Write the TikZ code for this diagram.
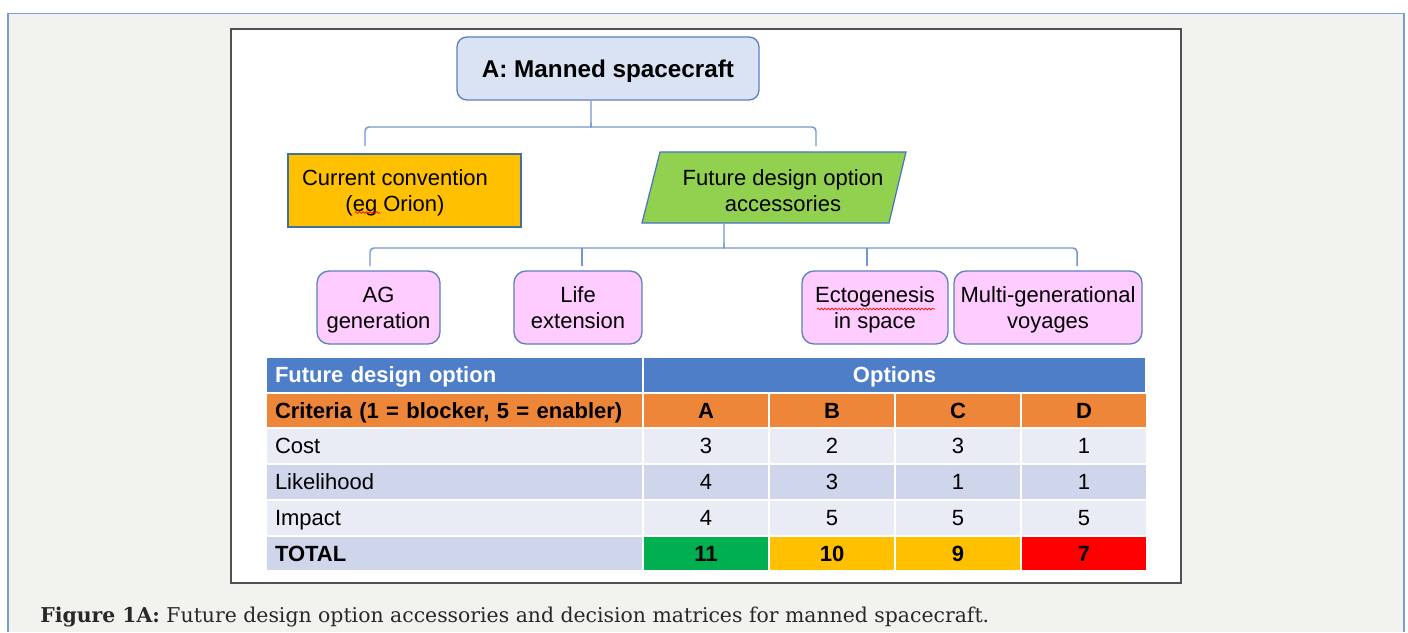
\documentclass[tikz,border=0pt]{standalone}
\usepackage{fontspec}
\setmainfont{Liberation Sans}
\newfontfamily\capfont{DejaVu Serif}
\usetikzlibrary{decorations.pathmorphing}

\begin{document}
\begin{tikzpicture}[x=0.75pt,y=0.75pt,yscale=-1,xscale=1,
  box/.style={draw={rgb,255:red,95;green,128;blue,190}, line width=1pt, align=center, inner sep=0pt, text depth=0pt, font=\fontsize{16.5}{19.5}\selectfont},
  pinkbox/.style={box, fill={rgb,255:red,255;green,204;blue,255}, rounded corners=9pt, minimum height=54.75pt},
  brace/.style={draw={rgb,255:red,114;green,150;blue,212}, line width=1.1pt},
  squig/.style={draw=red, line width=0.5pt, decorate, decoration={snake, amplitude=0.7pt, segment length=2.6pt}},
  cell/.style={draw=white, line width=1.5pt, minimum height=26.8pt, inner sep=0pt, text depth=0pt, font=\fontsize{16.5}{19}\selectfont},
  lab/.style={cell, minimum width=282.75pt, text width=269.25pt, align=left},
  num/.style={cell, minimum width=94.5pt},
  hdr/.style={fill={rgb,255:red,79;green,126;blue,201}, text=white},
  crit/.style={fill={rgb,255:red,238;green,134;blue,58}},
  rowlight/.style={fill={rgb,255:red,233;green,235;blue,245}},
  rowmid/.style={fill={rgb,255:red,207;green,213;blue,234}}]
\useasboundingbox (0,0) rectangle (1408,632);

%Shape: page background
\fill [color={rgb, 255:red, 242; green, 243; blue, 238 }] (8,13.5) rectangle (1404,632) ;
\draw [color={rgb, 255:red, 120; green, 156; blue, 216 }, line width=1pt] (8,632) -- (8,13.5) -- (1404,13.5) -- (1404,632) ;
%Shape: white panel
\draw [color={rgb, 255:red, 80; green, 80; blue, 80 }, fill=white, line width=0.9pt] (231,29) rectangle (1181,583) ;

% Title
\node [box, fill={rgb,255:red,218;green,227;blue,243}, rounded corners=7.5pt, minimum width=226.5pt, minimum height=47.25pt, font=\fontsize{18.2}{21}\selectfont\bfseries] (title) at (608,68.5) {A: Manned spacecraft};

% Current convention
\node [box, draw={rgb,255:red,65;green,113;blue,156}, fill={rgb,255:red,255;green,192;blue,0}, minimum width=174.75pt, minimum height=54.75pt] (conv) at (404.5,190.5) {};
\node [box, draw=none] (convtext) at (395,191) {Current convention\\(eg Orion)};
\draw [squig] (355,212.5) -- (380,212.5) ;

%Shape: Parallelogram
\draw [draw={rgb,255:red,68;green,114;blue,196}, fill={rgb,255:red,146;green,208;blue,80}, line width=0.9pt] (660,152) -- (906,152) -- (889,223) -- (642,223) -- cycle ;
\node [box, draw=none] (fut) at (783,191) {Future design option\\accessories};

% Accessories
\node [pinkbox, minimum width=92.25pt] (ag) at (378.5,307.5) {AG\\generation};
\node [pinkbox, minimum width=96pt] (life) at (578,307.5) {Life\\extension};
\node [pinkbox, minimum width=109.5pt] (ecto) at (875,307.5) {Ectogenesis\\in space};
\node [pinkbox, minimum width=141pt] (multi) at (1048,307.5) {Multi-generational\\voyages};
\draw [squig] (817,309) -- (935,309) ;

% Brace coordinates
\coordinate (t1) at (591,101) ;
\coordinate (l1) at (365,146) ;
\coordinate (r1) at (816,146) ;
\coordinate (t2) at (724,223) ;
\coordinate (d1) at (370,266) ;
\coordinate (d2) at (582,266) ;
\coordinate (d3) at (867,266) ;
\coordinate (d4) at (1077,266) ;

% Brace under title
\draw [brace, rounded corners=3pt] (l1) |- (587,127) .. controls (591,127) .. (591,122) -- (t1) ;
\draw [brace, rounded corners=3pt] (591,122) .. controls (591,127) .. (595,127) -| (r1) ;
% Brace under accessories
\draw [brace, rounded corners=3pt] (d1) |- (720,248) .. controls (724,248) .. (724,243) -- (t2) ;
\draw [brace, rounded corners=3pt] (724,243) .. controls (724,248) .. (728,248) -| (d4) ;
\draw [brace] (d2) -- (d2 |- 0,248) ;
\draw [brace] (d3) -- (d3 |- 0,248) ;

% Decision matrix
\node [lab, hdr, font=\fontsize{16.5}{19}\selectfont\bfseries] (h1) at (454.5,374.75) {Future design option};
\node [cell, hdr, minimum width=377.25pt, font=\fontsize{16.5}{19}\selectfont\bfseries] (h2) at (894.5,374.75) {Options};

\node [lab, crit, font=\fontsize{16.5}{19}\selectfont\bfseries] (crit) at (454.5,410.5) {Criteria (1 = blocker, 5 = enabler)};
\node [num, crit, font=\fontsize{16.5}{19}\selectfont\bfseries] (ca) at (706,410.5) {A};
\node [num, crit, font=\fontsize{16.5}{19}\selectfont\bfseries] (cb) at (832,410.5) {B};
\node [num, crit, font=\fontsize{16.5}{19}\selectfont\bfseries] (cc) at (958,410.5) {C};
\node [num, crit, font=\fontsize{16.5}{19}\selectfont\bfseries] (cd) at (1084,410.5) {D};

\node [lab, rowlight] (cost) at (454.5,446.25) {Cost};
\node [num, rowlight] (costa) at (706,446.25) {3};
\node [num, rowlight] (costb) at (832,446.25) {2};
\node [num, rowlight] (costc) at (958,446.25) {3};
\node [num, rowlight] (costd) at (1084,446.25) {1};

\node [lab, rowmid] (like) at (454.5,482) {Likelihood};
\node [num, rowmid] (likea) at (706,482) {4};
\node [num, rowmid] (likeb) at (832,482) {3};
\node [num, rowmid] (likec) at (958,482) {1};
\node [num, rowmid] (liked) at (1084,482) {1};

\node [lab, rowlight] (imp) at (454.5,517.75) {Impact};
\node [num, rowlight] (impa) at (706,517.75) {4};
\node [num, rowlight] (impb) at (832,517.75) {5};
\node [num, rowlight] (impc) at (958,517.75) {5};
\node [num, rowlight] (impd) at (1084,517.75) {5};

\node [lab, rowmid, font=\fontsize{16.5}{19}\selectfont\bfseries] (tot) at (454.5,553.5) {TOTAL};
\node [num, fill={rgb,255:red,0;green,176;blue,80}, font=\fontsize{16.5}{19}\selectfont\bfseries] (tota) at (706,553.5) {11};
\node [num, fill={rgb,255:red,255;green,192;blue,0}, font=\fontsize{16.5}{19}\selectfont\bfseries] (totb) at (832,553.5) {10};
\node [num, fill={rgb,255:red,255;green,192;blue,0}, font=\fontsize{16.5}{19}\selectfont\bfseries] (totc) at (958,553.5) {9};
\node [num, fill={rgb,255:red,255;green,0;blue,0}, font=\fontsize{16.5}{19}\selectfont\bfseries] (totd) at (1084,553.5) {7};

% Caption
\node [anchor=base west, inner sep=0pt, font=\capfont\fontsize{15.3}{18}\selectfont, text={rgb,255:red,40;green,40;blue,40}] (cap) at (40,622) {\textbf{Figure 1A:} Future design option accessories and decision matrices for manned spacecraft.};

\end{tikzpicture}
\end{document}
